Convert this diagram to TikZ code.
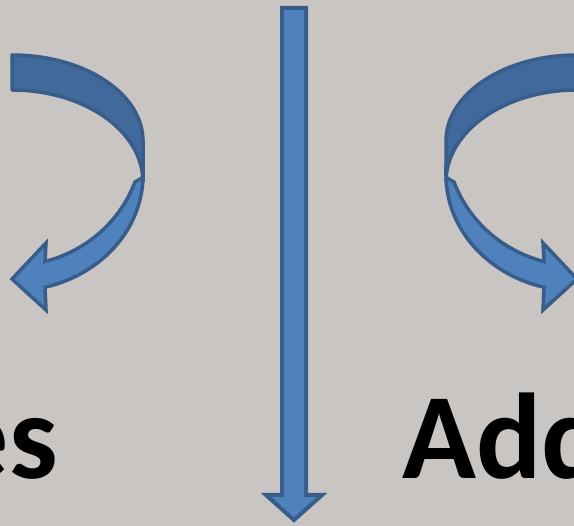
\documentclass[tikz,border=0pt]{standalone}
\usepackage{fontspec}
\setmainfont{Carlito}
\definecolor{bg}{HTML}{C8C5C2}
\definecolor{arrowline}{HTML}{385D8A}
\definecolor{arrowfill}{HTML}{4F81BD}
\definecolor{arrowdark}{HTML}{41699B}
\tikzset{
  arrowshape/.style={draw=arrowline, line width=3.5pt, fill=arrowfill, line join=miter},
  darkband/.style={arrowshape, fill=arrowdark, line join=round},
  bigword/.style={inner sep=0pt, font=\bfseries\fontsize{122}{122}\selectfont, text=black}
}
\newcommand{\uturnarrow}{%
  \draw[arrowshape] (143,175) arc[start angle=0, end angle=75.4, x radius=131, y radius=116]
     -- (46,310) -- (12,279) -- (46,243) -- (45,261.5)
     arc[start angle=75.4, end angle=20.2, x radius=131, y radius=127.6] -- (142,178) -- cycle;
  \draw[darkband] (12,55) arc[start angle=-90, end angle=0, x radius=131, y radius=86]
     -- (143,182) arc[start angle=0, end angle=-90, x radius=131, y radius=92] -- cycle;
}
\begin{document}
\begin{tikzpicture}[x=1pt,y=-1pt]
\fill[bg] (0,0) rectangle (574,526);
\useasboundingbox (0,0) rectangle (574,526);
\clip (0,0) rectangle (574,526);

% left curved arrow
\begin{scope}
  \uturnarrow
\end{scope}

% right curved arrow (mirror image)
\begin{scope}[shift={(589,0)}, xscale=-1]
  \uturnarrow
\end{scope}

% central down arrow
\draw[arrowshape, line width=4pt] (282,8) -- (306,8) -- (306,495) -- (322,495) -- (294,520)
   -- (266,495) -- (282,495) -- cycle;

% words
\node[bigword, anchor=base east] (es) at (58,479) {es};
\node[bigword, anchor=base west] (add) at (402,479) {Add};
\end{tikzpicture}
\end{document}
